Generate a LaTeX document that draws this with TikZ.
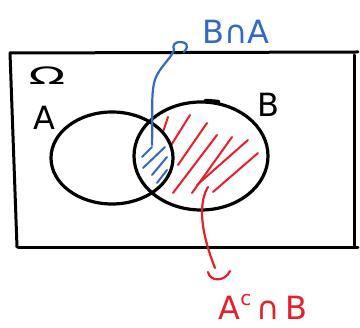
\documentclass[tikz,border=0pt]{standalone}
\usepackage{fontspec}
\setmainfont{DejaVu Sans}
\usetikzlibrary{shapes.geometric}
\definecolor{myblue}{RGB}{50,105,195}
\definecolor{myred}{RGB}{232,30,40}
\begin{document}
\begin{tikzpicture}[x=1pt,y=-1pt,
  frame/.style={line width=3pt,line cap=round,line join=round},
  setline/.style={draw,ellipse,line width=3.2pt,inner sep=0pt},
  hatchr/.style={myred,line width=2pt,line cap=round},
  hatchb/.style={myblue,line width=2pt,line cap=round},
  lbl/.style={font=\fontsize{32}{32}\selectfont},
  ptr/.style={line width=2.2pt,line cap=round,line join=round}]
\useasboundingbox (0,0) rectangle (360,328);
% frame
\draw[frame] (10,53) -- (358,52);
\draw[frame] (10,53) -- (17,247);
\draw[frame] (18,248) -- (358,248);
\draw[frame] (355,55) -- (355,247);
% hatching red: B minus A
\begin{scope}
  \clip (201,156) ellipse [x radius=67,y radius=54];
  \begin{scope}[even odd rule]
  \clip (0,0) rectangle (360,328) (112,158) ellipse [x radius=61,y radius=46];
  \draw[hatchr] (163,132) -- (168,117);
  \draw[hatchr] (170,147) -- (190,115);
  \draw[hatchr] (178,165) -- (207,123);
  \draw[hatchr] (173,193) -- (217,135);
  \draw[hatchr] (192,193) -- (232,137);
  \draw[hatchr] (197,185) -- (248,140);
  \draw[hatchr] (213,192) -- (258,153);
  \end{scope}
\end{scope}
% hatching blue: A cap B
\draw[hatchb] (142,157) -- (152,147);
\draw[hatchb] (143,168) -- (165,147);
\draw[hatchb] (152,175) -- (167,157);
\draw[hatchb] (157,183) -- (167,170);
% sets
\node[setline,minimum width=122pt,minimum height=92pt] (A) at (112,158) {};
\node[setline,minimum width=134pt,minimum height=108pt] (B) at (201,156) {};
\draw[line width=4.5pt,line cap=round] (206,101) -- (218,102);
% labels
\node[font=\fontsize{24}{24}\selectfont] (Om) at (47,76) {\scalebox{2}[1]{Ω}};
\node[lbl] (lA) at (44,118) {A};
\node[lbl] (lB) at (268,105) {B};
\node[lbl,myblue] (lBA) at (236,32) {B∩A};
\node[lbl,myred] (lAB) at (263,307) {A\raisebox{0.45em}{\fontsize{20}{20}\selectfont c}\,∩\,B};
% pointers
\coordinate (bs) at (152,145);
\coordinate (bh) at (174,50);
\draw[ptr,myblue] (bs) .. controls (153,110) and (150,88) .. (157,75)
  .. controls (163,64) and (171,58) .. (bh)
  .. controls (172,45) and (175,42) .. (180,42)
  .. controls (186,42) and (190,45) .. (184,52);
\coordinate (rs) at (208,187);
\coordinate (rh) at (215,268);
\draw[ptr,myred] (rs) .. controls (200,200) and (198,225) .. (rh);
\draw[ptr,myred] (208,272) .. controls (210,282) and (225,282) .. (230,271);
\end{tikzpicture}
\end{document}
